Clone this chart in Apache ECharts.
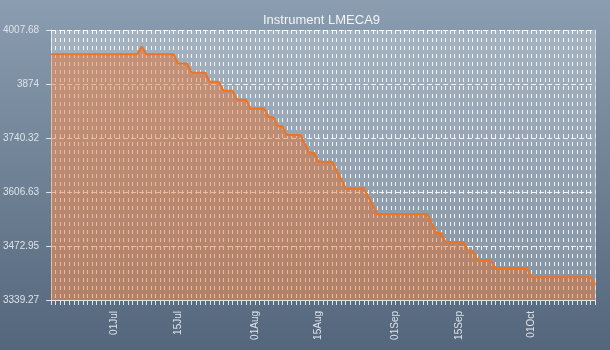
<!DOCTYPE html>
<html>
<head>
<meta charset="utf-8">
<script src="https://cdn.jsdelivr.net/npm/echarts@6/dist/echarts.min.js"></script>
<style>html,body{margin:0;padding:0;background:#6b7f94;}#c{width:610px;height:350px;}</style>
</head>
<body>
<div id="c"></div>
<script>
const titleText = 'Instrument LMECA9';
const dates = [
 '17Jun','18Jun','19Jun','20Jun','21Jun','22Jun','23Jun','24Jun','25Jun','26Jun','27Jun','28Jun','29Jun','30Jun',
 '01Jul','02Jul','03Jul','04Jul','05Jul','06Jul','07Jul','08Jul','09Jul','10Jul','11Jul','12Jul','13Jul','14Jul','15Jul','16Jul','17Jul','18Jul','19Jul','20Jul','21Jul','22Jul','23Jul','24Jul','25Jul','26Jul','27Jul','28Jul','29Jul','30Jul','31Jul',
 '01Aug','02Aug','03Aug','04Aug','05Aug','06Aug','07Aug','08Aug','09Aug','10Aug','11Aug','12Aug','13Aug','14Aug','15Aug','16Aug','17Aug','18Aug','19Aug','20Aug','21Aug','22Aug','23Aug','24Aug','25Aug','26Aug','27Aug','28Aug','29Aug','30Aug','31Aug',
 '01Sep','02Sep','03Sep','04Sep','05Sep','06Sep','07Sep','08Sep','09Sep','10Sep','11Sep','12Sep','13Sep','14Sep','15Sep','16Sep','17Sep','18Sep','19Sep','20Sep','21Sep','22Sep','23Sep','24Sep','25Sep','26Sep','27Sep','28Sep','29Sep','30Sep',
 '01Oct','02Oct','03Oct','04Oct','05Oct','06Oct','07Oct','08Oct','09Oct','10Oct','11Oct','12Oct','13Oct','14Oct','15Oct'
];
const prices = [
 3947.5,3947.5,3947.5,3947.5,3947.5,3947.5,3947.5,3947.5,3947.5,3947.5,
 3947.5,3947.5,3947.5,3947.5,3947.5,3947.5,3947.5,3947.5,3947.5,3947.5,
 3967.0,
 3947.5,3947.5,3947.5,3947.5,3947.5,3947.5,3947.5,
 3924.7,3924.7,3924.7,
 3902.0,3902.0,3902.0,3902.0,
 3879.7,3879.7,3879.7,
 3857.4,3857.4,3857.4,
 3835.1,3835.1,3835.1,
 3813.3,3813.3,3813.3,3813.3,
 3791.5,3791.5,
 3769.3,3769.3,
 3747.7,3747.7,3747.7,3747.7,
 3725.8,
 3703.9,3703.9,
 3681.6,3681.6,3681.6,3681.6,
 3659.5,
 3637.4,
 3615.3,3615.3,3615.3,3615.3,3615.3,
 3594.0,
 3572.7,
 3551.4,3551.4,3551.4,3551.4,3551.4,3551.4,3551.4,3551.4,3551.4,3551.4,3551.4,3551.4,
 3528.3,
 3505.1,3505.1,
 3482.9,3482.9,3482.9,3482.9,3482.9,
 3461.3,3461.3,
 3438.3,3438.3,3438.3,3438.3,
 3417.7,3417.7,3417.7,3417.7,3417.7,3417.7,3417.7,3417.7,
 3395.5,3395.5,3395.5,3395.5,3395.5,3395.5,3395.5,3395.5,3395.5,3395.5,3395.5,3395.5,3395.5,3395.5,
 3376.4
];
const yMin = 3339.27;
const yMax = 4007.68;
const yTickCount = 5;
const labelDays = ['01', '15'];

const chart = echarts.init(document.getElementById('c'), null, {renderer: 'canvas'});
const font = '"Liberation Sans", Arial, sans-serif';
const lastIdx = dates.length - 1;
const option = {
  animation: false,
  backgroundColor: {type: 'linear', x: 0, y: 0, x2: 0, y2: 1,
    colorStops: [{offset: 0, color: '#8b9db0'}, {offset: 1, color: '#53667b'}]},
  title: {
    text: titleText, left: 258, top: 9,
    textStyle: {color: '#f2f4f6', fontSize: 13, fontWeight: 'normal', fontFamily: font}
  },
  grid: {left: 50, right: 15, top: 30, bottom: 50, show: true,
    backgroundColor: 'rgba(255,255,255,0.26)', borderWidth: 0},
  xAxis: {
    type: 'category', data: dates, boundaryGap: false,
    axisLine: {lineStyle: {color: '#dfe5ea', width: 1}},
    axisTick: {interval: 0, length: 5, lineStyle: {color: '#dfe5ea'}},
    axisLabel: {
      interval: (i, v) => i !== lastIdx && labelDays.indexOf(v.slice(0, 2)) >= 0,
      hideOverlap: false,
      rotate: 90, margin: 11, color: '#dde3e9', fontSize: 10, fontFamily: font
    },
    splitLine: {show: true, interval: 0,
      lineStyle: {color: 'rgba(255,255,255,0.85)', type: [4, 4], width: 1}}
  },
  yAxis: [{
    type: 'value', min: yMin, max: yMax, interval: (yMax - yMin) / yTickCount,
    axisLine: {show: true, lineStyle: {color: 'rgba(240,240,240,0.8)'}},
    axisTick: {show: true, length: 5, lineStyle: {color: '#dfe5ea'}},
    axisLabel: {margin: 12, color: '#dde3e9', fontSize: 10, fontFamily: font,
      formatter: v => String(+v.toFixed(2))},
    splitLine: {show: true, lineStyle: {color: 'rgba(255,255,255,0.85)', type: [5, 3], width: 1}}
  }, {
    type: 'value', min: yMin, max: yMax, position: 'right',
    axisLine: {show: true, lineStyle: {color: 'rgba(215,222,228,0.7)'}},
    axisTick: {show: false}, axisLabel: {show: false}, splitLine: {show: false}
  }],
  series: [{
    type: 'line', data: prices, showSymbol: false, symbol: 'none',
    lineStyle: {color: '#f0731f', width: 2},
    areaStyle: {color: 'rgba(243,104,25,0.58)'}
  }]
};
chart.setOption(option);
</script>
</body>
</html>
